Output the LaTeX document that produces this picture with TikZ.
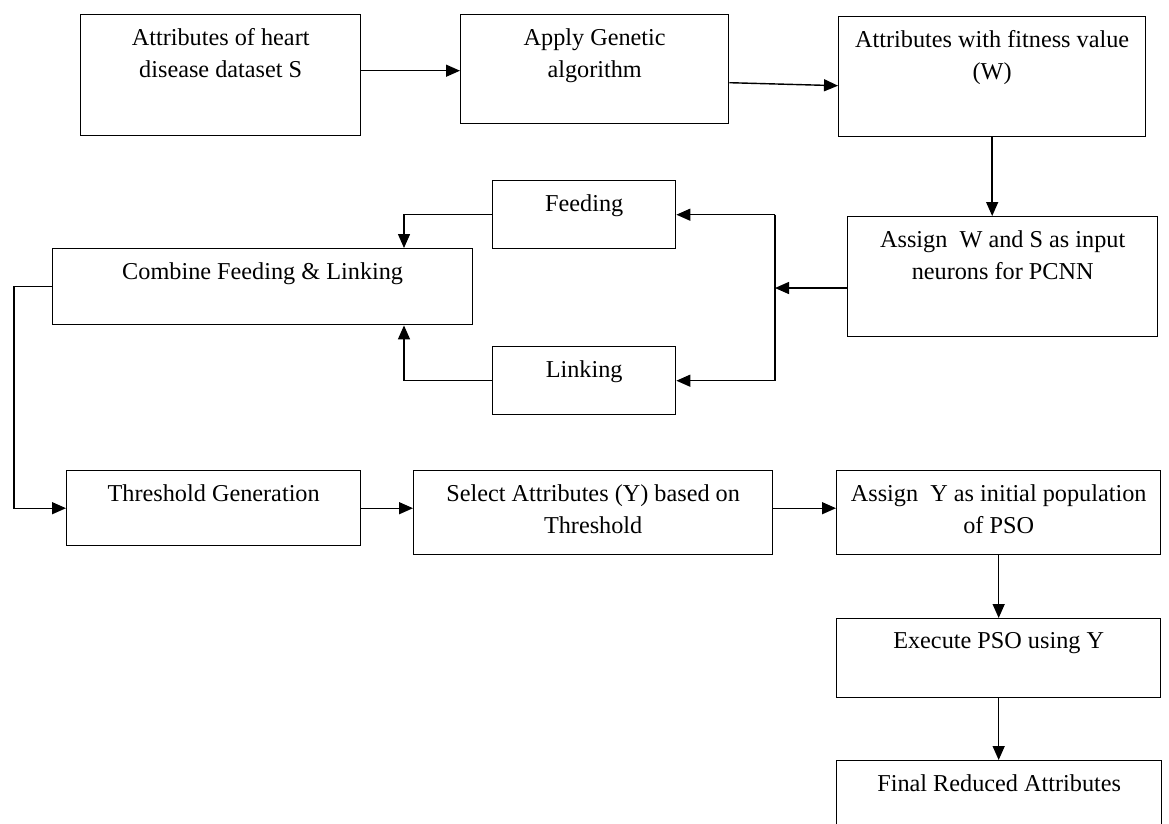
\documentclass[tikz,border=0pt]{standalone}
\usepackage{fontspec}
\setmainfont{Liberation Serif}
\usetikzlibrary{arrows.meta}
\tikzset{
  blk/.style={draw, line width=0.8pt, anchor=north west, inner sep=0pt},
  head/.style={anchor=north, yshift=-0.29cm, align=center, inner sep=0pt,
    font=\fontsize{13.8}{18}\selectfont},
  arr/.style={line width=0.8pt, -{Triangle[length=2.8mm,width=2.4mm]}}
}
\begin{document}
\begin{tikzpicture}[x=0.02cm,y=-0.02cm]
	\clip (0,0) rectangle (1169,823);
	% first row
	\node[blk, minimum width=5.6cm, minimum height=2.42cm, label={[head]north:{Attributes of heart\\disease dataset S}}] (data) at (80,14) {};
	\node[blk, minimum width=5.36cm, minimum height=2.18cm, label={[head]north:{Apply Genetic\\algorithm}}] (ga) at (460,14) {};
	\node[blk, minimum width=6.14cm, minimum height=2.4cm, label={[head]north:{Attributes with fitness value\\(W)}}] (fit) at (838,16) {};
	% PCNN part
	\node[blk, minimum width=6.2cm, minimum height=2.4cm, label={[head]north:{Assign~ W and S as input\\neurons for PCNN}}] (pcnn) at (847,216) {};
	\node[blk, minimum width=3.66cm, minimum height=1.36cm, label={[head]north:{Feeding}}] (feed) at (492,180) {};
	\node[blk, minimum width=3.66cm, minimum height=1.36cm, label={[head]north:{Linking}}] (link) at (492,346) {};
	\node[blk, minimum width=8.4cm, minimum height=1.52cm, label={[head]north:{Combine Feeding \& Linking}}] (comb) at (52,248) {};
	% third row
	\node[blk, minimum width=5.88cm, minimum height=1.5cm, label={[head]north:{Threshold Generation}}] (thr) at (66,470) {};
	\node[blk, minimum width=7.18cm, minimum height=1.68cm, label={[head]north:{Select Attributes (Y) based on\\Threshold}}] (sel) at (413,470) {};
	\node[blk, minimum width=6.48cm, minimum height=1.68cm, label={[head]north:{Assign~ Y as initial population\\of PSO}}] (pso) at (836,470) {};
	% PSO part
	\node[blk, minimum width=6.48cm, minimum height=1.58cm, label={[head]north:{Execute PSO using Y}}] (exec) at (836,618) {};
	\node[blk, minimum width=6.5cm, minimum height=2.0cm, label={[head]north:{Final Reduced Attributes}}] (final) at (836,760) {};
	\coordinate (jn) at (775,288);
	\coordinate (fl) at (404,0);
	% connectors
	\draw[arr] ([yshift=0.09cm]data.east) -- ([yshift=0.09cm]data.east -| ga.west);
	\draw[arr] ([yshift=-0.27cm]ga.east) -- ([yshift=-0.18cm]fit.west);
	\draw[arr] (fit.south) -- (fit.south |- pcnn.north);
	\draw[arr] (pcnn.west |- jn) -- (jn);
	\draw[line width=0.8pt] (feed.east -| jn) -- (link.east -| jn);
	\draw[arr] (feed.east -| jn) -- (feed.east);
	\draw[arr] (link.east -| jn) -- (link.east);
	\draw[arr] (feed.west) -| (fl |- comb.north);
	\draw[arr] (link.west) -| (fl |- comb.south);
	\draw[arr] (comb.west) -- ++(-38,0) |- (thr.west);
	\draw[arr] (thr.east) -- (thr.east -| sel.west);
	\draw[arr] (thr.east -| sel.east) -- (thr.east -| pso.west);
	\draw[arr] (pso.south) -- (exec.north);
	\draw[arr] (exec.south) -- (exec.south |- final.north);
\end{tikzpicture}
\end{document}
